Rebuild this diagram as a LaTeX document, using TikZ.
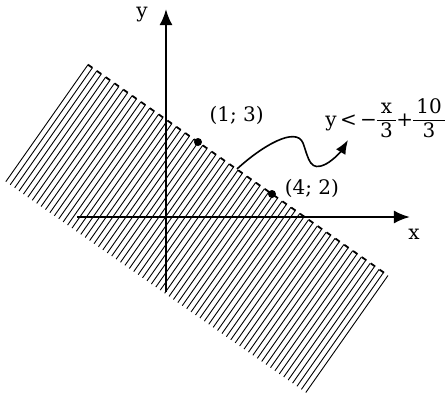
\documentclass[tikz,border=0pt]{standalone}
\usepackage{fontspec}
\setmainfont{DejaVu Serif}
\usetikzlibrary{arrows.meta,positioning,calc}
\newcommand{\vfr}[2]{\begin{tabular}{@{\,}c@{\,}}#1\\[-0.5pt]\hline #2\end{tabular}}
\begin{document}
\begin{tikzpicture}[
  x=0.5pt,y=-0.5pt,
  font=\fontsize{10}{12}\selectfont,
  axis/.style={line width=1.2pt,-{Latex[length=8pt,width=6.5pt]}},
  hatch/.style={line width=0.45pt},
  bound/.style={line width=0.9pt,dash pattern=on 2.7pt off 2.7pt},
  dot/.style={circle,fill,inner sep=0pt,minimum size=4pt},
  lbl/.style={inner sep=1pt},
  ar/.style={-{Latex[length=7pt,width=5.5pt]},line width=0.8pt}]
\useasboundingbox (0,0) rectangle (447,397);
\coordinate (A) at (88,64.7);
\coordinate (B) at (388,275.5);
\foreach \i in {0,...,68}
  \draw[hatch] ($(A)!\i/68!(B)$) -- ++(-82.2,117);
\draw[bound] (A) -- (B);
\coordinate (ybot) at (166,292);
\coordinate (ytip) at (166,9);
\coordinate (xlft) at (77,217);
\coordinate (xtip) at (410,217);
\draw[axis] (ybot) -- (ytip);
\draw[axis] (xlft) -- (xtip);
\node[lbl,left=8pt of ytip,yshift=-3pt] (ylbl) {y};
\node[lbl,below=5pt of xtip,xshift=2pt] (xlbl) {x};
\node[dot] (p13) at (198,142) {};
\node[dot] (p42) at (272,194) {};
\node[lbl,above right=6pt and 3pt of p13] (l13) {(1; 3)};
\node[lbl,right=3pt of p42,yshift=3pt] (l42) {(4; 2)};
\coordinate (s) at (237,169);
\coordinate (e) at (348,140);
\draw[ar] (s) .. controls (262,146) and (296,126) .. (303,143)
  .. controls (309,160) and (310,172) .. (326,164)
  .. controls (335,159) and (342,150) .. (e);
\node[lbl,anchor=west,inner sep=0pt] (ineq) at (325,121) {y\,<\,−\vfr{x}{3}+\vfr{10}{3}};
\end{tikzpicture}
\end{document}
